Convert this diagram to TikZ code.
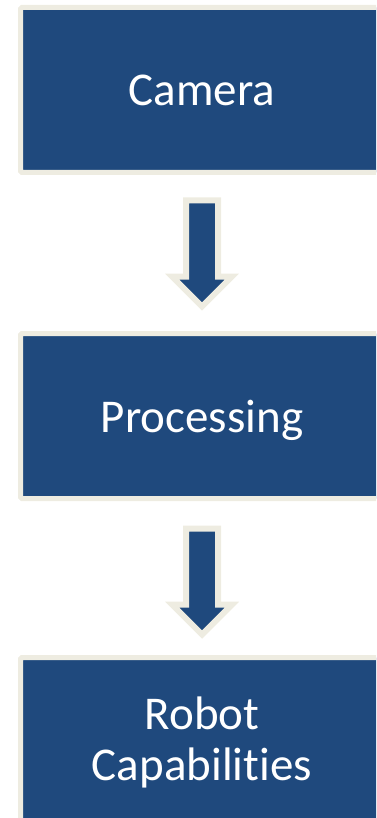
\documentclass[tikz,border=0pt]{standalone}
\usepackage{fontspec}
\setmainfont{Carlito}[Ligatures=NoCommon]
\usetikzlibrary{calc}
\definecolor{boxblue}{HTML}{1F497D}
\definecolor{boxcream}{HTML}{EEECE1}
\tikzset{
  stagebox/.style={draw=boxcream, fill=boxblue, line width=5pt, rounded corners=1.5pt,
    minimum width=363pt, minimum height=165pt, inner sep=0pt, text=white,
    font=\fontsize{47}{51}\selectfont, align=center},
  blockarrow/.pic={
    \draw[draw=boxcream, fill=boxblue, line width=6pt, miter limit=10]
      (-16,0) -- (16,0) -- (16,76) -- (30,76) -- (0,106) -- (-30,76) -- (-16,76) -- cycle;
  }
}
\begin{document}
\begin{tikzpicture}[x=1pt, y=-1pt]
  \useasboundingbox (0,0) rectangle (376,818);
  \clip (0,0) rectangle (376,818);
  \node[stagebox, text depth=0pt] (cam) at (202,90) {Camera};
  \node[stagebox, text depth=0pt] (proc) at (202,416) {Processing};
  \node[stagebox] (robot) at (202,740) {};
  \node[text=white, font=\fontsize{47}{51}\selectfont, align=center, inner sep=0pt,
    anchor=base] (robottext) at (202,780) {Robot\\Capabilities};
  \pic at ($(cam.south)+(0,25.5)$) {blockarrow};
  \pic at ($(proc.south)+(0,27.5)$) {blockarrow};
\end{tikzpicture}
\end{document}
